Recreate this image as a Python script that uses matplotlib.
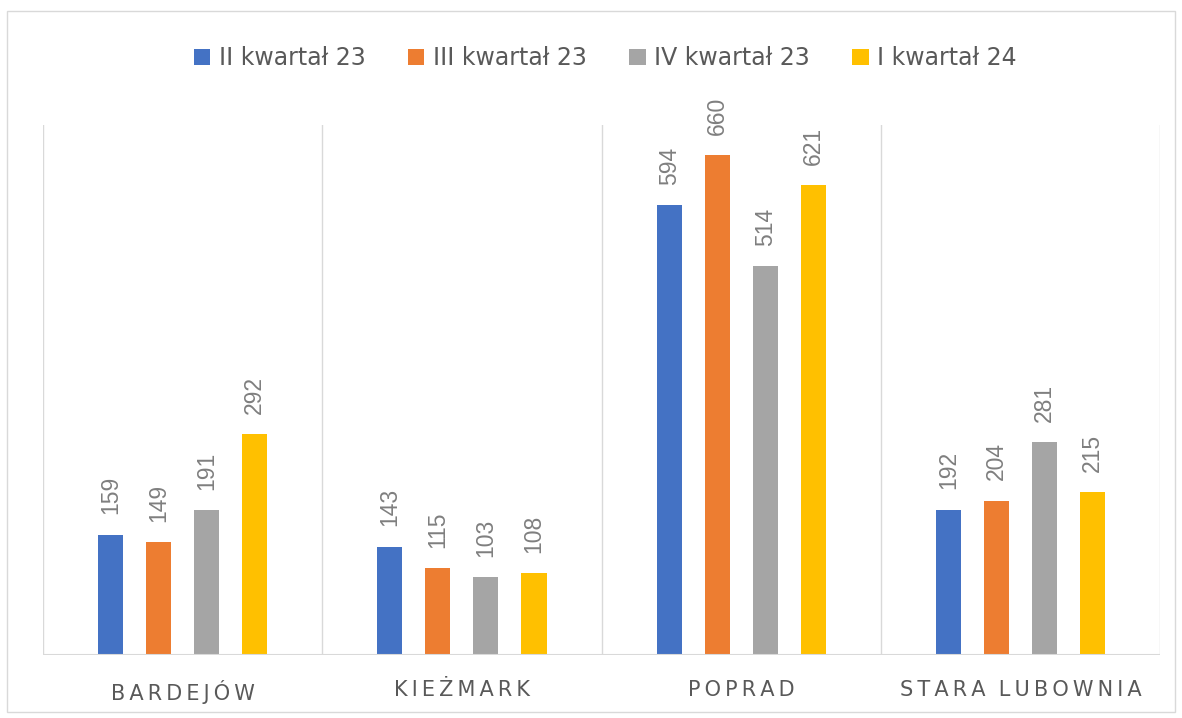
import matplotlib.pyplot as plt
import numpy as np
from matplotlib.patches import Rectangle

categories = ['BARDEJÓW', 'KIEŻMARK', 'POPRAD', 'STARA LUBOWNIA']
series = ['II kwartał 23', 'III kwartał 23', 'IV kwartał 23', 'I kwartał 24']
values = [
    [159, 143, 594, 192],
    [149, 115, 660, 204],
    [191, 103, 514, 281],
    [292, 108, 621, 215],
]
colors = ['#4472C4', '#ED7D31', '#A5A5A5', '#FFC000']

plt.rcParams['font.family'] = ['DejaVu Sans']

fig = plt.figure(figsize=(11.82, 7.18), dpi=100)
ax = fig.add_axes([0.0364, 0.0877, 0.945, 0.738])

x = np.arange(len(categories))
step = 0.172
width = 0.09
for i, (name, vals) in enumerate(zip(series, values)):
    pos = x + (i - 1.5) * step
    ax.bar(pos, vals, width=width, color=colors[i], label=name, zorder=3)
    for p, v in zip(pos, vals):
        ax.text(p, v + 27, str(v), rotation=90, ha='center', va='bottom',
                fontsize=16.5, color='#7F7F7F', family='Liberation Sans')

ax.set_xlim(-0.5, len(categories) - 0.5)
ax.set_ylim(0, 700)
for b in np.arange(-0.5, len(categories), 1):
    ax.axvline(b, color='#D9D9D9', lw=1, zorder=1)
ax.axhline(0, color='#D9D9D9', lw=1.5, zorder=4)

for s in ax.spines.values():
    s.set_visible(False)
ax.set_yticks([])
ax.set_xticks(x)
spaced = ['  '.join('\u2009'.join(w) for w in c.split(' ')) for c in categories]
ax.set_xticklabels(spaced, fontsize=15, color='#595959')
ax.tick_params(axis='x', length=0, pad=18)

fig.legend(loc='upper center', bbox_to_anchor=(0.512, 0.965), ncol=4, frameon=False,
           fontsize=17, labelcolor='#595959', handlelength=0.7, handleheight=0.7,
           handletextpad=0.35, columnspacing=1.8)

fig.patches.append(Rectangle((0.006, 0.008), 0.988, 0.976, transform=fig.transFigure,
                             fill=False, edgecolor='#D9D9D9', lw=1))

fig.savefig('out.png', dpi=100)
